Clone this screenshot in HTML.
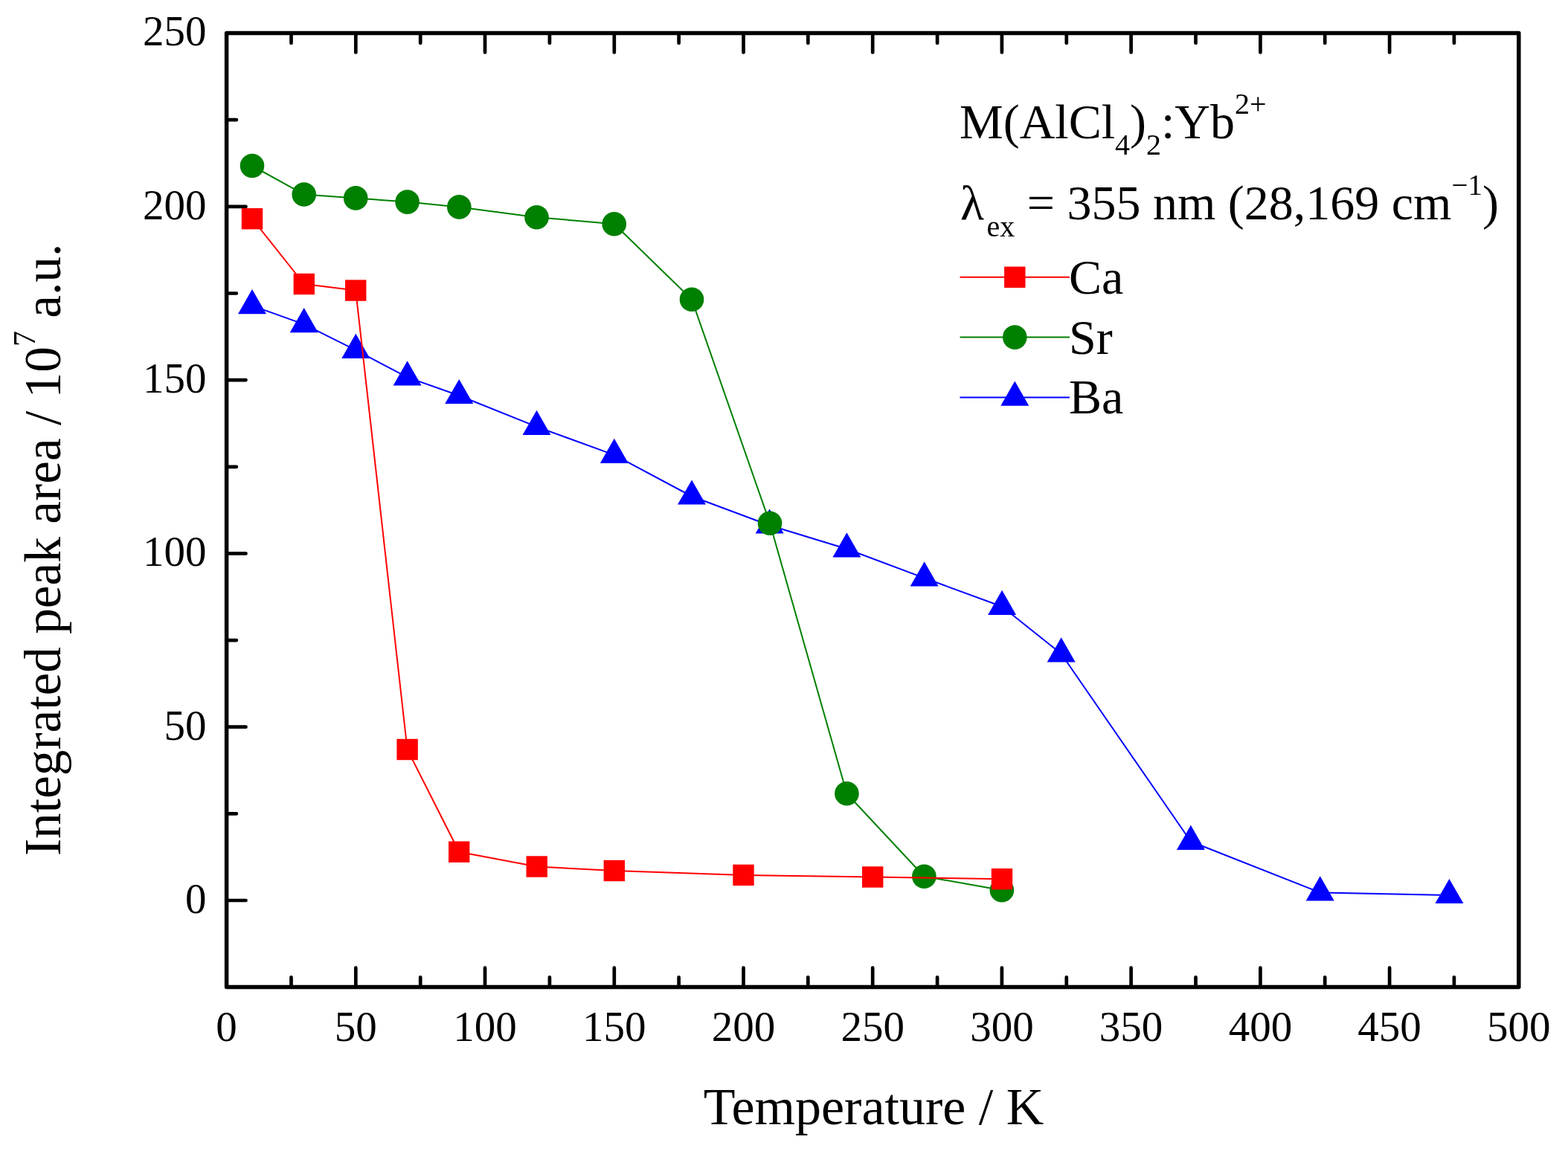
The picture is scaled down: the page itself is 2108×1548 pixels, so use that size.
<!DOCTYPE html>
<html><head><meta charset="utf-8"><title>Integrated peak area vs temperature</title>
<style>
html,body{margin:0;padding:0;background:#fff;width:2108px;height:1548px;overflow:hidden;}
svg{display:block;}
text{font-family:"Liberation Serif","Times New Roman",serif;fill:#000;}
</style></head><body>
<svg width="2108" height="1548" viewBox="0 0 2108 1548">
<rect width="2108" height="1548" fill="#fff"/>
<path d="M391.5 1327.6V1314.3M391.5 44.6V57.9M478.3 1327.6V1301.7M478.3 44.6V70.5M565.2 1327.6V1314.3M565.2 44.6V57.9M652.0 1327.6V1301.7M652.0 44.6V70.5M738.9 1327.6V1314.3M738.9 44.6V57.9M825.8 1327.6V1301.7M825.8 44.6V70.5M912.6 1327.6V1314.3M912.6 44.6V57.9M999.5 1327.6V1301.7M999.5 44.6V70.5M1086.3 1327.6V1314.3M1086.3 44.6V57.9M1173.2 1327.6V1301.7M1173.2 44.6V70.5M1260.1 1327.6V1314.3M1260.1 44.6V57.9M1346.9 1327.6V1301.7M1346.9 44.6V70.5M1433.8 1327.6V1314.3M1433.8 44.6V57.9M1520.6 1327.6V1301.7M1520.6 44.6V70.5M1607.5 1327.6V1314.3M1607.5 44.6V57.9M1694.4 1327.6V1301.7M1694.4 44.6V70.5M1781.2 1327.6V1314.3M1781.2 44.6V57.9M1868.1 1327.6V1301.7M1868.1 44.6V70.5M1954.9 1327.6V1314.3M1954.9 44.6V57.9M304.6 1211.0H330.5M304.6 1094.3H317.9M304.6 977.7H330.5M304.6 861.1H317.9M304.6 744.4H330.5M304.6 627.8H317.9M304.6 511.1H330.5M304.6 394.5H317.9M304.6 277.9H330.5M304.6 161.2H317.9" stroke="#000" stroke-width="4.7" stroke-linecap="round" fill="none"/>
<rect x="304.6" y="44.6" width="1737.2" height="1283.0" fill="none" stroke="#000" stroke-width="5.5" stroke-linejoin="round"/>
<g font-size="57"><text x="304.6" y="1399.8" text-anchor="middle">0</text><text x="478.3" y="1399.8" text-anchor="middle">50</text><text x="652.0" y="1399.8" text-anchor="middle">100</text><text x="825.8" y="1399.8" text-anchor="middle">150</text><text x="999.5" y="1399.8" text-anchor="middle">200</text><text x="1173.2" y="1399.8" text-anchor="middle">250</text><text x="1346.9" y="1399.8" text-anchor="middle">300</text><text x="1520.6" y="1399.8" text-anchor="middle">350</text><text x="1694.4" y="1399.8" text-anchor="middle">400</text><text x="1868.1" y="1399.8" text-anchor="middle">450</text><text x="2041.8" y="1399.8" text-anchor="middle">500</text><text x="277.5" y="1227.8" text-anchor="end">0</text><text x="277.5" y="994.5" text-anchor="end">50</text><text x="277.5" y="761.2" text-anchor="end">100</text><text x="277.5" y="527.9" text-anchor="end">150</text><text x="277.5" y="294.7" text-anchor="end">200</text><text x="277.5" y="61.4" text-anchor="end">250</text></g>
<text x="1174.5" y="1512" font-size="70" text-anchor="middle">Temperature / K</text>
<text transform="translate(80.5,1151) rotate(-90)" font-size="69.3">Integrated peak area / 10<tspan font-size="42" dy="-34">7</tspan><tspan dy="34"> a.u.</tspan></text>
<text x="1290" y="186" font-size="66">M(AlCl<tspan font-size="40" dy="22">4</tspan><tspan dy="-22">)</tspan><tspan font-size="40" dy="22">2</tspan><tspan dy="-22">:Yb</tspan><tspan font-size="40" dy="-33">2+</tspan></text>
<text x="1291" y="295" font-size="66">λ<tspan font-size="40" dx="3.5" dy="23">ex</tspan><tspan dy="-23"> = 355 nm (28,169 cm</tspan><tspan font-size="39" dy="-33">−1</tspan><tspan dy="33">)</tspan></text>
<polyline points="339.0,411.1 408.7,436.1 478.3,470.9 547.6,507.4 617.2,532.0 721.5,573.9 825.8,611.9 930.0,667.5 1034.6,706.5 1138.4,738.3 1242.7,777.4 1347.1,815.8 1426.7,879.3 1600.9,1131.8 1774.7,1200.4 1948.4,1204.0" fill="none" stroke="#0000ff" stroke-width="2.0" stroke-linejoin="round"/>
<g fill="#0000ff"><polygon points="339.0,389.0 358.0,422.2 320.0,422.2"/><polygon points="408.7,414.0 427.7,447.2 389.7,447.2"/><polygon points="478.3,448.8 497.3,482.0 459.3,482.0"/><polygon points="547.6,485.3 566.6,518.5 528.6,518.5"/><polygon points="617.2,509.9 636.2,543.1 598.2,543.1"/><polygon points="721.5,551.8 740.5,585.0 702.5,585.0"/><polygon points="825.8,589.8 844.8,623.0 806.8,623.0"/><polygon points="930.0,645.4 949.0,678.6 911.0,678.6"/><polygon points="1034.6,684.4 1053.6,717.6 1015.6,717.6"/><polygon points="1138.4,716.2 1157.4,749.4 1119.4,749.4"/><polygon points="1242.7,755.3 1261.7,788.5 1223.7,788.5"/><polygon points="1347.1,793.7 1366.1,826.9 1328.1,826.9"/><polygon points="1426.7,857.2 1445.7,890.4 1407.7,890.4"/><polygon points="1600.9,1109.7 1619.9,1142.9 1581.9,1142.9"/><polygon points="1774.7,1178.3 1793.7,1211.5 1755.7,1211.5"/><polygon points="1948.4,1181.9 1967.4,1215.1 1929.4,1215.1"/></g>
<polyline points="339.0,223.0 408.7,261.5 478.2,266.4 547.6,271.6 617.3,278.4 721.5,292.2 825.7,301.2 930.0,402.7 1035.0,703.7 1138.4,1067.2 1242.4,1178.7 1346.9,1197.2" fill="none" stroke="#008000" stroke-width="2.0" stroke-linejoin="round"/>
<g fill="#008000"><circle cx="339.0" cy="223.0" r="16.3"/><circle cx="408.7" cy="261.5" r="16.3"/><circle cx="478.2" cy="266.4" r="16.3"/><circle cx="547.6" cy="271.6" r="16.3"/><circle cx="617.3" cy="278.4" r="16.3"/><circle cx="721.5" cy="292.2" r="16.3"/><circle cx="825.7" cy="301.2" r="16.3"/><circle cx="930.0" cy="402.7" r="16.3"/><circle cx="1035.0" cy="703.7" r="16.3"/><circle cx="1138.4" cy="1067.2" r="16.3"/><circle cx="1242.4" cy="1178.7" r="16.3"/><circle cx="1346.9" cy="1197.2" r="16.3"/></g>
<polyline points="339.0,294.2 408.8,382.0 478.2,390.6 547.6,1008.0 617.2,1145.7 721.7,1165.5 825.8,1171.0 999.5,1176.9 1173.2,1179.5 1347.0,1182.2" fill="none" stroke="#ff0000" stroke-width="2.0" stroke-linejoin="round"/>
<g fill="#ff0000"><rect x="324.8" y="280.0" width="28.4" height="28.4"/><rect x="394.6" y="367.8" width="28.4" height="28.4"/><rect x="464.0" y="376.4" width="28.4" height="28.4"/><rect x="533.4" y="993.8" width="28.4" height="28.4"/><rect x="603.0" y="1131.5" width="28.4" height="28.4"/><rect x="707.5" y="1151.3" width="28.4" height="28.4"/><rect x="811.6" y="1156.8" width="28.4" height="28.4"/><rect x="985.3" y="1162.7" width="28.4" height="28.4"/><rect x="1159.0" y="1165.3" width="28.4" height="28.4"/><rect x="1332.8" y="1168.0" width="28.4" height="28.4"/></g>
<path d="M1290.5 372.8H1438" stroke="#ff0000" stroke-width="2.0"/>
<rect x="1350.1" y="358.6" width="28.4" height="28.4" fill="#ff0000"/>
<path d="M1290.5 453.6H1438" stroke="#008000" stroke-width="2.0"/>
<circle cx="1364.3" cy="453.6" r="16.3" fill="#008000"/>
<path d="M1290.5 534.6H1438" stroke="#0000ff" stroke-width="2.0"/>
<g fill="#0000ff"><polygon points="1364.3,512.5 1383.3,545.7 1345.3,545.7"/></g>
<g font-size="66"><text x="1437" y="395">Ca</text><text x="1437" y="476.4">Sr</text><text x="1437" y="556.3">Ba</text></g>
</svg>
</body></html>
